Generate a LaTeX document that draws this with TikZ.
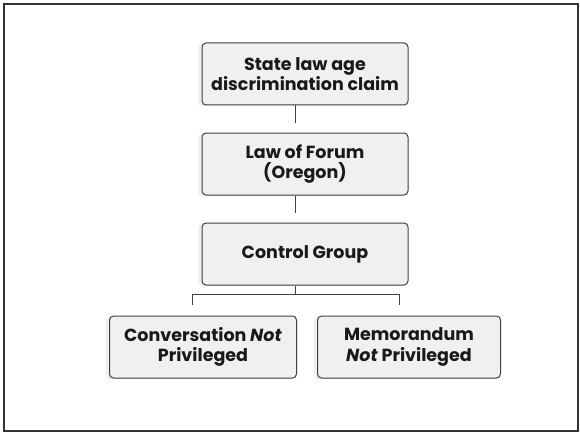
\documentclass[tikz,border=0pt]{standalone}
\usepackage{fontspec}
\setmainfont{Poppins}
\usetikzlibrary{positioning,shadows}
\tikzset{
box/.style={draw=black!75, fill=black!6, rounded corners=4pt, line width=1pt,
  minimum width=206pt, minimum height=62pt, align=center, inner sep=2pt,
  text=black!90, font=\bfseries\fontsize{17.5}{20.5}\selectfont,
  drop shadow={shadow xshift=-4pt, shadow yshift=-1pt, opacity=0.12}},
link/.style={draw=black!75, line width=1pt},
node distance=27pt,
}

\begin{document}
\begin{tikzpicture}[x=1pt,y=-1pt]
    \useasboundingbox (0,0) rectangle (580,433);
    \draw[line width=2pt, black!80] (4,4) rectangle (578,431);

    \node[box] (claim) at (305,74) {State law age\\discrimination claim};
    \node[box,below=of claim] (forum) {Law of Forum\\(Oregon)};
    \node[box,below=of forum] (group) {Control Group};
    \node[box,minimum width=187pt] (conv) at (203,347) {Conversation \emph{Not}\\Privileged};
    \node[box,minimum width=183pt] (memo) at (409,347) {Memorandum\\\emph{Not} Privileged};

    % short stubs under the boxes
    \draw[link] ([xshift=-10pt]claim.south) -- ++(0,17) coordinate (c1);
    \draw[link] ([xshift=-10pt]forum.south) -- ++(0,17) coordinate (c2);
    \draw[link] ([xshift=-10pt]group.south) -- ++(0,9) coordinate (split);
    \coordinate (lend) at (192,305);
    \coordinate (rend) at (399,305);
    \draw[link] (lend) |- (split) -| (rend);

\end{tikzpicture}
\end{document}
